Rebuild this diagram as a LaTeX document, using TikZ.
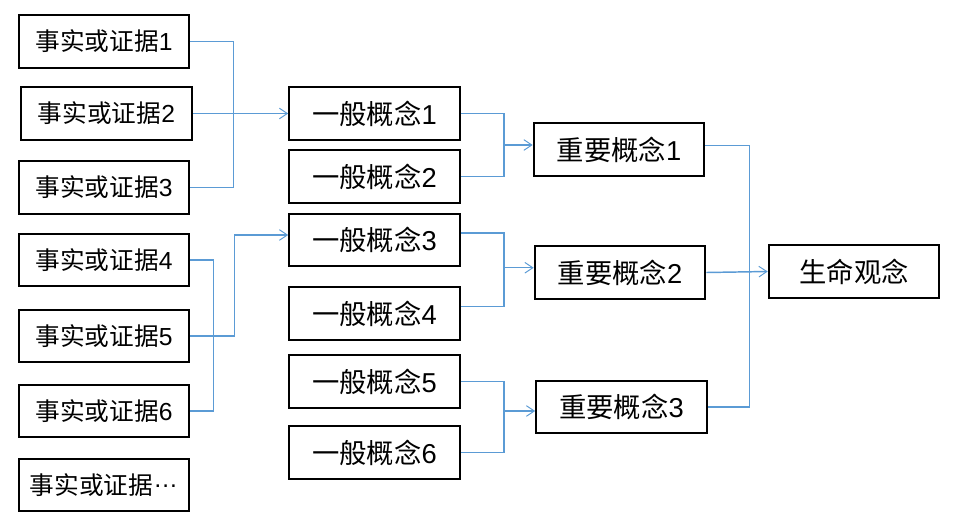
\documentclass[tikz,border=0pt]{standalone}
\usepackage{fontspec}
\setmainfont{Liberation Sans}
\newfontfamily\cjk{Noto Sans CJK SC}
\usetikzlibrary{arrows.meta,calc}
\definecolor{conncol}{RGB}{91,155,213}
\begin{document}
\begin{tikzpicture}[x=0.75pt,y=-0.75pt,
  box/.style={draw=black,line width=1.5pt,minimum width=128pt,minimum height=39.5pt,inner sep=0pt,font=\fontsize{18.5}{18.5}\selectfont},
  bigbox/.style={box,font=\fontsize{20.5}{20.5}\selectfont},
  conn/.style={draw=conncol,line width=1.1pt},
  arr/.style={conn,-{Straight Barb[length=6pt,width=8pt,line width=0.7pt]}}]
\useasboundingbox[fill=white] (0,0) rectangle (958,525);
% evidence column
\node[box] (f1) at (104,41.5) {{\cjk 事实或证据}1};
\node[box] (f2) at (106.5,113.5) {{\cjk 事实或证据}2};
\node[box] (f3) at (104,187.5) {{\cjk 事实或证据}3};
\node[box] (f4) at (104,260) {{\cjk 事实或证据}4};
\node[box] (f5) at (104,336) {{\cjk 事实或证据}5};
\node[box] (f6) at (104,411) {{\cjk 事实或证据}6};
\node[box] (f7) at (104,485) {{\cjk 事实或证据}\raisebox{0.3em}{…}};
% general concepts
\node[bigbox] (g1) at (374.5,113.5) {{\cjk 一般概念}1};
\node[bigbox] (g2) at (374.5,176.5) {{\cjk 一般概念}2};
\node[bigbox] (g3) at (374.5,240) {{\cjk 一般概念}3};
\node[bigbox] (g4) at (374.5,313.5) {{\cjk 一般概念}4};
\node[bigbox] (g5) at (374.5,381.5) {{\cjk 一般概念}5};
\node[bigbox] (g6) at (374.5,452.5) {{\cjk 一般概念}6};
% important concepts
\node[bigbox] (i1) at (619,149.5) {{\cjk 重要概念}1};
\node[bigbox] (i2) at (620,272.5) {{\cjk 重要概念}2};
\node[bigbox] (i3) at (621.5,407) {{\cjk 重要概念}3};
% life concept
\node[bigbox] (L) at (854,271.5) {{\cjk 生命观念}};
% connectors: evidence -> general
\draw[conn] (f1.east) -- ++(43,0) |- (f3.east);
\draw[arr] (f2.east) -- (g1.west);
\draw[conn] (f4.east) -- ++(23,0) |- (f6.east);
\draw[arr] (f5.east) -- ++(44,0) |- ($(g3.west)+(0,-5)$);
% general -> important
\draw[conn] (g1.east) -- ++(43,0) |- (g2.east);
\draw[arr] ($(g1.east)!0.5!(g2.east)+(43,0)$) coordinate (m1) -- (m1 -| i1.west);
\draw[conn] ($(g3.east)+(0,-7)$) -- ++(43,0) |- ($(g4.east)+(0,-7)$);
\draw[arr] ($(g3.east)!0.5!(g4.east)+(43,-9)$) coordinate (m2) -- (m2 -| i2.west);
\draw[conn] (g5.east) -- ++(43,0) |- (g6.east);
\draw[arr] ($(g5.east)!0.5!(g6.east)+(43,-6)$) coordinate (m3) -- (m3 -| i3.west);
% important -> life concept
\draw[conn] ($(i1.east)+(0,-4)$) -- ++(44,0) |- (i3.east);
\draw[arr] (i2.east) -- (L.west);
\end{tikzpicture}
\end{document}
